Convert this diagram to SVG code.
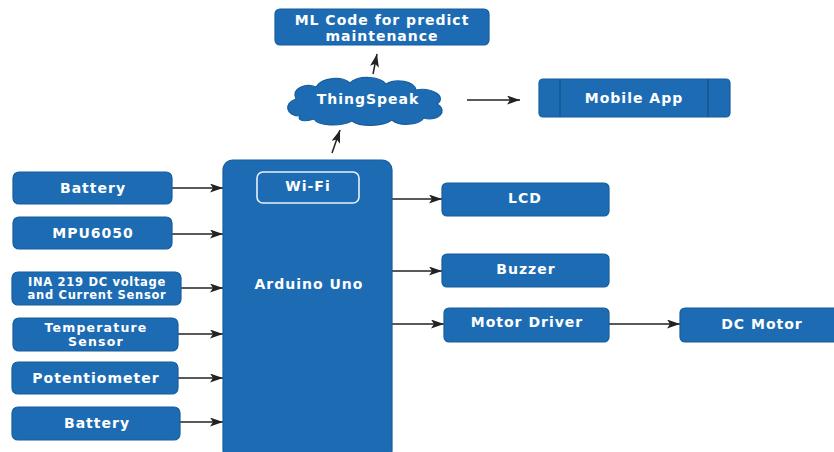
<svg xmlns="http://www.w3.org/2000/svg" width="834" height="452" viewBox="0 0 834 452">
<defs>
<style>
.box{fill:#1d6cb3;stroke:#165d9e;stroke-width:1.2}
.t{font-family:"DejaVu Sans",Verdana,sans-serif;font-weight:bold;fill:#fff;font-size:14px;letter-spacing:1px;text-anchor:middle;dominant-baseline:central}
.s{font-size:11.5px;letter-spacing:0.7px}
.m{font-size:12.5px;letter-spacing:1.2px}
.c{stroke:#222;stroke-width:1.5;fill:none;marker-end:url(#ah)}
</style>
<marker id="ah" viewBox="0 0 13 9" refX="13" refY="4.5" markerWidth="13" markerHeight="9" markerUnits="userSpaceOnUse" orient="auto">
<path d="M0,0 L13,4.5 L0,9 L3,4.5 Z" fill="#222"/>
</marker>
</defs>
<rect width="834" height="452" fill="#fff"/>
<g id="connectors">
<line class="c" x1="373" y1="74" x2="377" y2="54"/>
<line class="c" x1="332" y1="153" x2="340" y2="130"/>
<line class="c" x1="467" y1="100" x2="520" y2="100"/>
<line class="c" x1="172" y1="188" x2="223" y2="188"/>
<line class="c" x1="172" y1="234" x2="223" y2="234"/>
<line class="c" x1="181" y1="288" x2="223" y2="288"/>
<line class="c" x1="178" y1="334" x2="223" y2="334"/>
<line class="c" x1="178" y1="378" x2="223" y2="378"/>
<line class="c" x1="180" y1="422" x2="223" y2="422"/>
<line class="c" x1="392" y1="199" x2="442" y2="199"/>
<line class="c" x1="392" y1="271" x2="442" y2="271"/>
<line class="c" x1="392" y1="324" x2="444" y2="324"/>
<line class="c" x1="609" y1="324" x2="680" y2="324"/>
</g>
<g id="ml">
<rect class="box" x="275" y="9" width="214" height="36" rx="5"/>
<text class="t" x="382" y="20">ML Code for predict</text>
<text class="t" x="382" y="36">maintenance</text>
</g>
<g id="thingspeak">
<path class="box" d="M300,116 C286,116 283,103 296,99 C291,88 306,83 316,87 C322,77 342,76 350,83 C358,75 380,76 386,84 C396,78 414,81 416,90 C430,87 448,96 437,104 C449,111 438,122 424,118 C418,126 398,126 392,120 C382,127 360,127 352,121 C340,127 318,126 314,119 C306,122 296,121 300,116 Z"/>
<text class="t" x="368" y="99">ThingSpeak</text>
</g>
<g id="mobile">
<rect class="box" x="539" y="79" width="191" height="38" rx="4"/>
<line x1="560" y1="79" x2="560" y2="117" stroke="#134f86" stroke-width="1.2"/>
<line x1="708" y1="79" x2="708" y2="117" stroke="#134f86" stroke-width="1.2"/>
<text class="t" x="634" y="98">Mobile App</text>
</g>
<g id="battery1">
<rect class="box" x="13" y="172" width="159" height="32" rx="6"/>
<text class="t" x="93" y="188">Battery</text>
</g>
<g id="mpu">
<rect class="box" x="13" y="217" width="159" height="32" rx="6"/>
<text class="t" x="93" y="233">MPU6050</text>
</g>
<g id="ina">
<rect class="box" x="12" y="272" width="169" height="33" rx="6"/>
<text class="t s" x="97" y="282">INA 219 DC voltage</text>
<text class="t s" x="97" y="295">and Current Sensor</text>
</g>
<g id="temp">
<rect class="box" x="13" y="318" width="165" height="33" rx="6"/>
<text class="t m" x="96" y="327.5">Temperature</text>
<text class="t m" x="96" y="341">Sensor</text>
</g>
<g id="pot">
<rect class="box" x="12" y="362" width="166" height="32" rx="6"/>
<text class="t" x="96" y="378">Potentiometer</text>
</g>
<g id="battery2">
<rect class="box" x="12" y="407" width="168" height="33" rx="6"/>
<text class="t" x="97" y="423">Battery</text>
</g>
<g id="arduino">
<rect class="box" x="223" y="160" width="169" height="300" rx="10"/>
<rect x="257" y="172" width="102" height="31" rx="6" fill="none" stroke="#e8f1fa" stroke-width="1.6"/>
<text class="t" x="308" y="186">Wi-Fi</text>
<text class="t" x="309" y="284">Arduino Uno</text>
</g>
<g id="lcd">
<rect class="box" x="442" y="183" width="167" height="33" rx="5"/>
<text class="t" x="525" y="198">LCD</text>
</g>
<g id="buzzer">
<rect class="box" x="442" y="254" width="167" height="33" rx="5"/>
<text class="t" x="526" y="269">Buzzer</text>
</g>
<g id="motordriver">
<rect class="box" x="444" y="308" width="165" height="34" rx="5"/>
<text class="t" x="527" y="322">Motor Driver</text>
</g>
<g id="dcmotor">
<rect class="box" x="680" y="308" width="160" height="34" rx="5"/>
<text class="t" x="762" y="324">DC Motor</text>
</g>
</svg>
